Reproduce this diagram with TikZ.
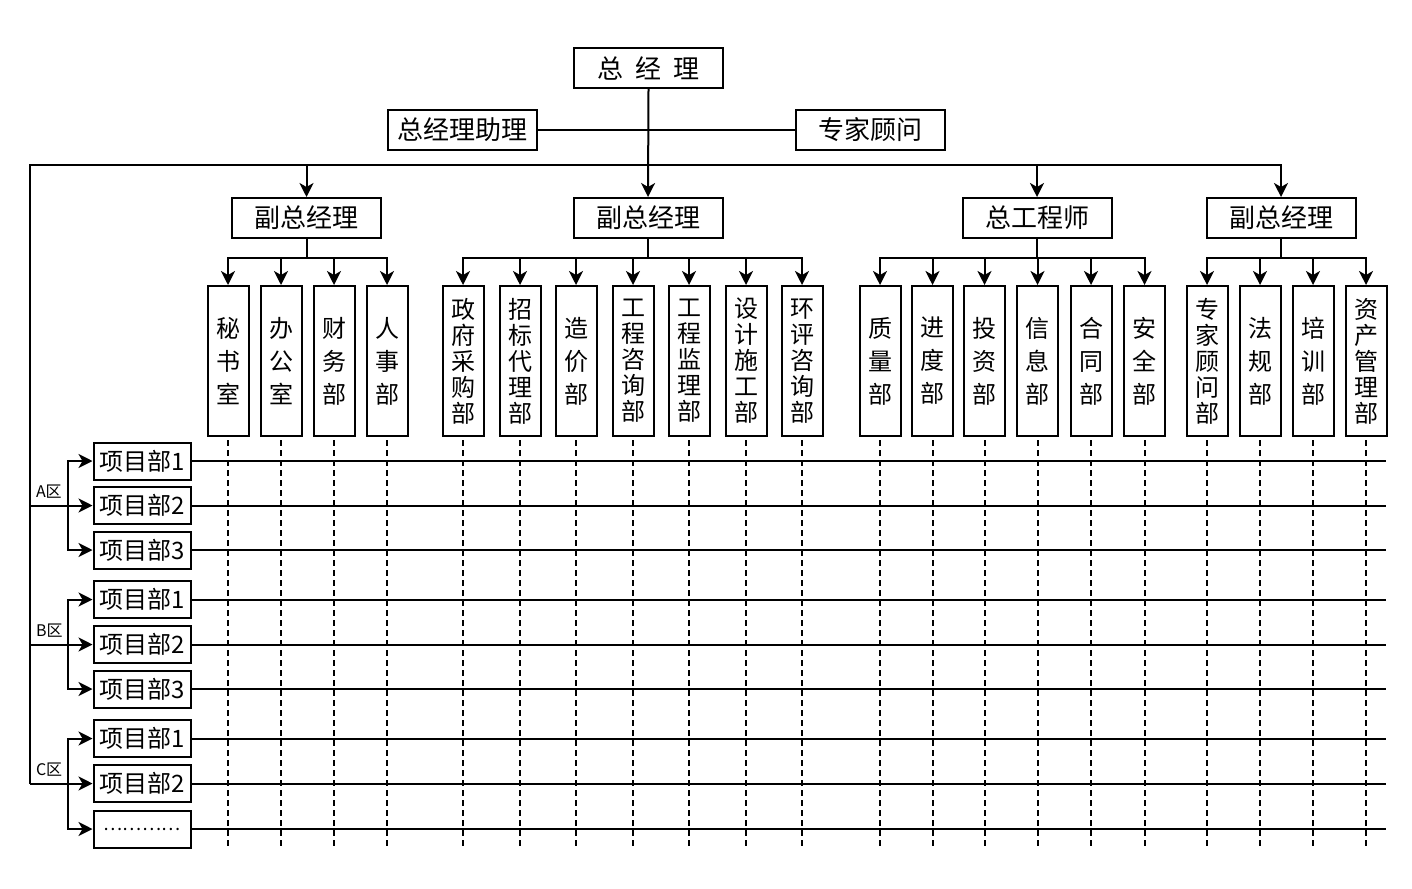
\documentclass[tikz,border=0pt]{standalone}
\usepackage{fontspec}
\setmainfont{Noto Sans CJK SC}
\usetikzlibrary{arrows.meta}
\begin{document}
\begin{tikzpicture}[x=1pt,y=-1pt,line width=2pt,
  box/.style={draw,line width=2pt,minimum width=149pt,minimum height=40pt,inner sep=0pt,font=\fontsize{26}{28}\selectfont},
  vbox/.style={draw,line width=2pt,minimum width=41pt,minimum height=150pt,inner sep=0pt,align=center,font=\fontsize{24}{26}\selectfont},
  vboxs/.style={vbox,font=\fontsize{24}{33}\selectfont},
  pbox/.style={draw,line width=2pt,minimum width=97pt,minimum height=37pt,inner sep=0pt,font=\fontsize{24}{26}\selectfont},
  zlab/.style={inner sep=0pt,anchor=base west,font=\fontsize{16}{18}\selectfont},
  arr/.style={-{Stealth[length=14pt,width=14pt,inset=4pt]}},
  dline/.style={dash pattern=on 6pt off 4pt,line width=2pt},
]
\useasboundingbox (0,0) rectangle (1412,888);
% level coordinates
\coordinate (ytop) at (0,165);
\coordinate (yb) at (0,258);
\coordinate (yend) at (0,848);
\coordinate (xend) at (1386,0);
\coordinate (xt) at (30,0);
\coordinate (xb) at (68,0);
% top
\node[box] (gm) at (648.5,68) {总\hspace{12pt}经\hspace{12pt}理};
\node[box] (asst) at (462.5,130) {总经理助理};
\node[box] (expert) at (870.5,130) {专家顾问};
\draw (asst.east) -- (expert.west);
% vice managers
\node[box] (v1) at (306.5,218) {副总经理};
\node[box] (v2) at (648,218) {副总经理};
\node[box] (v3) at (1037,218) {总工程师};
\node[box] (v4) at (1281,218) {副总经理};
% departments
\node[vboxs] (c11) at (228,361) {秘\\书\\室};
\node[vboxs] (c12) at (281,361) {办\\公\\室};
\node[vboxs] (c13) at (334,361) {财\\务\\部};
\node[vboxs] (c14) at (387,361) {人\\事\\部};
\node[vbox] (c21) at (463,361) {政\\府\\采\\购\\部};
\node[vbox] (c22) at (520,361) {招\\标\\代\\理\\部};
\node[vboxs] (c23) at (576,361) {造\\价\\部};
\node[vbox] (c24) at (633,361) {工\\程\\咨\\询\\部};
\node[vbox] (c25) at (689,361) {工\\程\\监\\理\\部};
\node[vbox] (c26) at (746,361) {设\\计\\施\\工\\部};
\node[vbox] (c27) at (802,361) {环\\评\\咨\\询\\部};
\node[vboxs] (c31) at (880,361) {质\\量\\部};
\node[vboxs] (c32) at (932.5,361) {进\\度\\部};
\node[vboxs] (c33) at (984.5,361) {投\\资\\部};
\node[vboxs] (c34) at (1037.5,361) {信\\息\\部};
\node[vboxs] (c35) at (1091,361) {合\\同\\部};
\node[vboxs] (c36) at (1144.5,361) {安\\全\\部};
\node[vbox] (c41) at (1207,361) {专\\家\\顾\\问\\部};
\node[vboxs] (c42) at (1260,361) {法\\规\\部};
\node[vboxs] (c43) at (1313,361) {培\\训\\部};
\node[vbox] (c44) at (1366,361) {资\\产\\管\\理\\部};
% project departments
\node[pbox] (p1) at (142,461) {项目部1};
\node[pbox] (p2) at (142,505.5) {项目部2};
\node[pbox] (p3) at (142,550) {项目部3};
\node[pbox] (p4) at (142,599.5) {项目部1};
\node[pbox] (p5) at (142,644.5) {项目部2};
\node[pbox] (p6) at (142,689) {项目部3};
\node[pbox] (p7) at (142,738.5) {项目部1};
\node[pbox] (p8) at (142,783.5) {项目部2};
\node[pbox,font=\fontsize{18}{20}\selectfont] (p9) at (142,829) {…………};
\node[zlab] (za) at (35,497) {A区};
\node[zlab] (zb) at (35,636) {B区};
\node[zlab] (zc) at (35,775) {C区};
% connectors
\draw[arr] (gm.south) -- (v2.north);
\draw[arr] (xt|-p8) -- (xt|-ytop) -| (v4.north);
\draw[arr] (v1|-ytop) -- (v1.north);
\draw[arr] (v3|-ytop) -- (v3.north);
\foreach \c in {c11,c12,c13,c14} \draw[arr] (v1.south) -- (v1|-yb) -| (\c.north);
\foreach \c in {c21,c22,c23,c24,c25,c26,c27} \draw[arr] (v2.south) -- (v2|-yb) -| (\c.north);
\foreach \c in {c31,c32,c33,c34,c35,c36} \draw[arr] (v3.south) -- (v3|-yb) -| (\c.north);
\foreach \c in {c41,c42,c43,c44} \draw[arr] (v4.south) -- (v4|-yb) -| (\c.north);
\foreach \c in {c11,c12,c13,c14,c21,c22,c23,c24,c25,c26,c27,c31,c32,c33,c34,c35,c36,c41,c42,c43,c44}
  \draw[dline] (\c.south) ++(0,3) -- (\c|-yend);
\foreach \p in {p1,p2,p3,p4,p5,p6,p7,p8,p9} \draw (\p.east) -- (\p-|xend);
\foreach \a/\b/\c in {p1/p2/p3,p4/p5/p6,p7/p8/p9}{
  \draw[arr] (xt|-\b) -- (\b.west);
  \draw[arr] (xb|-\b) -- (xb|-\a) -- (\a.west);
  \draw[arr] (xb|-\b) -- (xb|-\c) -- (\c.west);
}
\end{tikzpicture}
\end{document}
